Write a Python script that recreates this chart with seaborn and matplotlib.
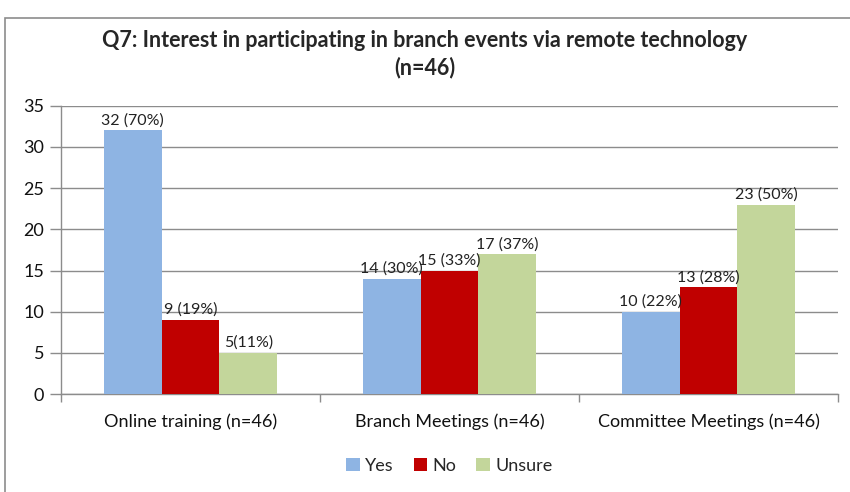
import pandas as pd
import matplotlib.pyplot as plt
import seaborn as sns
from matplotlib.patches import Rectangle

# chart values
categories = ['Online training (n=46)', 'Branch Meetings (n=46)', 'Committee Meetings (n=46)']
answers = ['Yes', 'No', 'Unsure']
yes_counts = [32, 14, 10]
no_counts = [9, 15, 13]
unsure_counts = [5, 17, 23]
yes_labels = ['32 (70%)', '14 (30%)', '10 (22%)']
no_labels = ['9 (19%)', '15 (33%)', '13 (28%)']
unsure_labels = ['5(11%)', '17 (37%)', '23 (50%)']
colors = ['#8EB4E3', '#C00000', '#C3D69B']

data = pd.DataFrame({
    'category': categories * 3,
    'answer': [a for a in answers for _ in categories],
    'count': yes_counts + no_counts + unsure_counts,
})

sns.set_style('white')
plt.rcParams['font.family'] = ['Lato', 'DejaVu Sans']

fig = plt.figure(figsize=(8.5, 4.92), dpi=100)
ax = fig.add_axes([0.0718, 0.199, 0.914, 0.586])

sns.barplot(data=data, x='category', y='count', hue='answer', hue_order=answers,
            palette=colors, width=0.67, gap=0, saturation=1, ax=ax, legend=True,
            zorder=3, linewidth=0)

for cont, labs in zip(ax.containers, [yes_labels, no_labels, unsure_labels]):
    ax.bar_label(cont, labels=labs, padding=2, fontsize=11.5, color='#222222')

ax.set_ylim(0, 35)
ax.set_yticks(range(0, 36, 5))
ax.set_xlim(-0.5, 2.5)
ax.grid(axis='y', color='#8C8C8C', linewidth=1, zorder=0)
ax.set_xlabel('')
ax.set_ylabel('')

# category separators on the x axis
ax.set_xticks([-0.5, 0.5, 1.5, 2.5], minor=True)
ax.tick_params(axis='x', which='minor', length=6, color='#8C8C8C', width=1, direction='out')
ax.tick_params(axis='x', which='major', length=0, labelsize=13, pad=14, labelcolor='#111111')
ax.tick_params(axis='y', length=8, color='#8C8C8C', width=1, labelsize=13, labelcolor='#111111', pad=4)
ax.yaxis.set_ticks_position('left')
ax.xaxis.set_ticks_position('bottom')

for side in ['top', 'right']:
    ax.spines[side].set_visible(False)
for side in ['left', 'bottom']:
    ax.spines[side].set_color('#8C8C8C')
    ax.spines[side].set_linewidth(1)

leg = ax.legend(loc='upper center', bbox_to_anchor=(0.5, -0.165), ncol=3, frameon=False,
                fontsize=13, handlelength=0.75, handleheight=0.75, handletextpad=0.3,
                columnspacing=1.1)

fig.text(0.5, 0.918, 'Q7: Interest in participating in branch events via remote technology',
         ha='center', va='center', fontsize=15.5, fontweight='bold')
fig.text(0.5, 0.862, '(n=46)', ha='center', va='center', fontsize=15.5, fontweight='bold')

# outer chart frame (cut off at right and bottom)
fig.patches.append(Rectangle((5 / 850, -0.1), 1.2, (492 - 18) / 492 + 0.1,
                             transform=fig.transFigure, fill=False,
                             edgecolor='#8C8C8C', linewidth=1.2))

fig.savefig('out.png', dpi=100)
